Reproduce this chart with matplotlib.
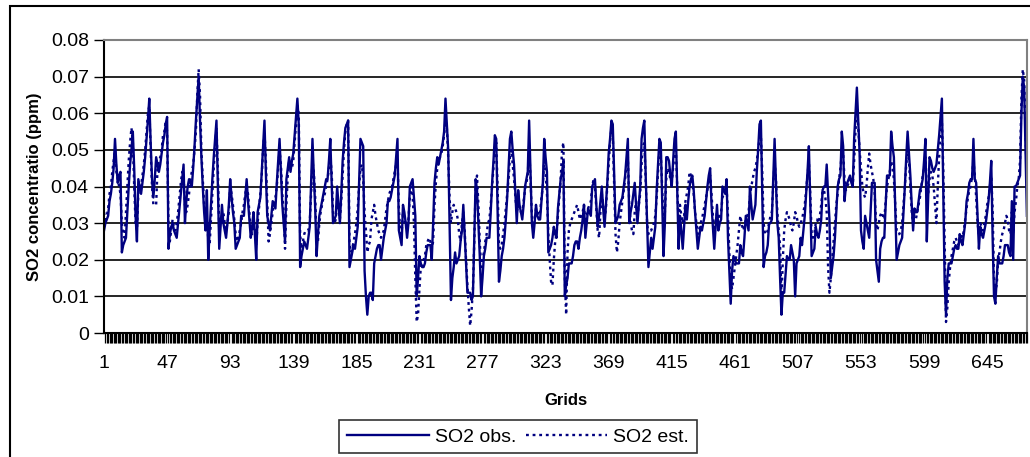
import matplotlib
matplotlib.use("Agg")
import matplotlib.pyplot as plt
import numpy as np
from matplotlib.patches import Rectangle
from matplotlib.ticker import FixedLocator, FuncFormatter

# SO2 values in 0.001 ppm, one per grid (1..674)
so2_obs = [
    28, 30, 31, 32, 36, 38, 41, 45, 53, 46,
    41, 43, 44, 22, 24, 25, 26, 33, 40, 46,
    50, 55, 45, 32, 25, 42, 40, 38, 41, 44,
    48, 53, 58, 64, 52, 42, 37, 42, 48, 46,
    44, 46, 49, 52, 54, 57, 59, 23, 27, 29,
    30, 28, 27, 26, 30, 34, 38, 42, 46, 30,
    36, 40, 42, 41, 40, 45, 51, 58, 64, 70,
    58, 48, 40, 33, 28, 39, 20, 28, 35, 42,
    48, 53, 58, 40, 23, 29, 35, 30, 28, 26,
    30, 35, 42, 37, 33, 30, 23, 24, 25, 26,
    32, 32, 32, 37, 42, 36, 31, 26, 29, 33,
    27, 20, 33, 35, 37, 44, 51, 58, 44, 32,
    30, 28, 32, 36, 35, 34, 41, 47, 53, 44,
    35, 30, 25, 42, 45, 48, 44, 47, 49, 54,
    59, 64, 57, 18, 21, 23, 25, 24, 23, 26,
    29, 41, 53, 43, 34, 21, 27, 32, 34, 36,
    38, 40, 42, 42, 47, 53, 41, 30, 31, 32,
    40, 35, 30, 38, 47, 52, 56, 57, 58, 18,
    20, 22, 24, 23, 26, 29, 41, 53, 52, 51,
    17, 10, 5, 10, 11, 11, 9, 19, 21, 23,
    24, 24, 20, 23, 26, 28, 30, 36, 36, 37,
    39, 41, 43, 48, 53, 28, 26, 24, 35, 33,
    30, 26, 30, 40, 41, 42, 37, 32, 10, 15,
    21, 19, 18, 18, 19, 22, 24, 24, 24, 20,
    30, 41, 45, 48, 46, 48, 50, 52, 55, 64,
    57, 50, 30, 9, 15, 18, 22, 19, 20, 21,
    25, 28, 35, 27, 19, 11, 11, 11, 9, 10,
    26, 42, 39, 30, 21, 10, 15, 21, 23, 26,
    26, 26, 33, 41, 47, 54, 53, 34, 14, 17,
    21, 23, 26, 31, 37, 45, 53, 55, 50, 46,
    38, 30, 39, 35, 33, 31, 35, 40, 42, 44,
    58, 44, 30, 26, 30, 35, 32, 31, 31, 36,
    41, 53, 48, 44, 22, 23, 24, 26, 29, 27,
    26, 34, 38, 42, 44, 47, 10, 13, 15, 19,
    19, 19, 21, 24, 25, 25, 23, 26, 28, 31,
    35, 26, 30, 34, 33, 32, 40, 41, 42, 35,
    29, 32, 36, 40, 34, 29, 35, 41, 49, 53,
    58, 57, 43, 30, 31, 32, 35, 36, 37, 40,
    43, 48, 53, 30, 33, 35, 38, 41, 35, 30,
    35, 40, 53, 56, 58, 43, 30, 18, 22, 26,
    23, 26, 29, 39, 46, 53, 52, 36, 21, 30,
    48, 48, 47, 43, 40, 47, 53, 55, 39, 23,
    32, 28, 23, 29, 35, 31, 36, 40, 42, 43,
    39, 33, 28, 23, 26, 29, 28, 30, 32, 36,
    40, 43, 45, 35, 29, 23, 29, 35, 28, 30,
    31, 40, 39, 38, 42, 26, 17, 8, 17, 21,
    20, 19, 19, 19, 24, 22, 21, 26, 32, 30,
    28, 40, 35, 31, 33, 35, 44, 50, 57, 58,
    38, 18, 21, 22, 24, 30, 30, 31, 42, 53,
    41, 30, 26, 15, 5, 11, 11, 16, 21, 20,
    20, 24, 22, 20, 10, 19, 20, 21, 26, 24,
    28, 32, 38, 44, 51, 36, 21, 22, 23, 29,
    27, 26, 28, 31, 39, 40, 40, 46, 38, 31,
    15, 18, 21, 26, 33, 40, 42, 43, 55, 51,
    36, 40, 41, 42, 43, 41, 40, 53, 60, 67,
    58, 49, 28, 25, 23, 32, 30, 28, 26, 33,
    41, 41, 41, 20, 17, 14, 23, 25, 26, 26,
    35, 43, 43, 43, 55, 51, 48, 34, 20, 22,
    24, 25, 26, 33, 40, 48, 55, 49, 43, 35,
    28, 34, 33, 33, 36, 39, 40, 42, 47, 53,
    25, 37, 48, 47, 45, 44, 45, 46, 50, 54,
    59, 64, 38, 14, 5, 15, 19, 19, 19, 21,
    23, 24, 23, 23, 27, 25, 24, 27, 30, 36,
    38, 41, 42, 42, 53, 42, 41, 32, 23, 29,
    27, 26, 28, 30, 33, 36, 41, 47, 26, 10,
    8, 15, 21, 19, 19, 19, 21, 24, 24, 24,
    22, 21, 36, 20, 40, 40, 41, 42, 43, 60,
    70, 67, 50, 32,
]

so2_est = [
    33, 30, 32, 34, 38, 40, 44, 47, 50, 44,
    42, 40, 38, 30, 27, 26, 33, 40, 47, 52,
    56, 52, 40, 30, 28, 38, 41, 40, 43, 46,
    50, 55, 60, 62, 50, 40, 35, 35, 35, 45,
    47, 48, 50, 54, 55, 58, 55, 30, 25, 28,
    31, 29, 28, 30, 33, 37, 41, 44, 43, 35,
    33, 35, 38, 42, 44, 46, 50, 55, 65, 72,
    65, 50, 42, 35, 33, 30, 26, 24, 31, 38,
    45, 51, 56, 45, 28, 30, 32, 33, 30, 28,
    30, 33, 40, 38, 35, 31, 27, 25, 26, 28,
    30, 33, 35, 38, 40, 38, 33, 28, 27, 30,
    29, 24, 30, 34, 38, 43, 50, 55, 47, 36,
    25, 27, 30, 33, 36, 37, 40, 45, 50, 46,
    38, 33, 23, 35, 43, 47, 46, 45, 47, 52,
    57, 62, 60, 27, 23, 25, 27, 28, 28, 28,
    30, 38, 47, 44, 37, 26, 25, 30, 33, 35,
    37, 38, 40, 42, 45, 48, 44, 33, 30, 31,
    36, 34, 31, 36, 43, 50, 55, 57, 58, 25,
    22, 23, 25, 27, 30, 34, 40, 45, 46, 42,
    33, 28, 22, 24, 25, 31, 33, 35, 32, 30,
    28, 27, 26, 27, 28, 31, 34, 36, 38, 39,
    40, 42, 44, 46, 48, 34, 28, 27, 33, 31,
    30, 29, 31, 37, 40, 38, 30, 15, 3, 5,
    12, 18, 19, 20, 21, 24, 25, 26, 25, 23,
    25, 35, 41, 45, 47, 48, 49, 51, 54, 58,
    56, 48, 37, 30, 33, 35, 34, 33, 31, 27,
    25, 30, 33, 28, 20, 13, 7, 2, 6, 12,
    25, 40, 43, 35, 25, 18, 20, 22, 25, 27,
    30, 31, 35, 40, 45, 50, 52, 40, 24, 23,
    24, 27, 30, 34, 38, 42, 48, 50, 46, 42,
    37, 33, 35, 34, 33, 33, 36, 39, 41, 43,
    51, 42, 32, 29, 31, 34, 33, 32, 33, 37,
    40, 47, 43, 38, 27, 20, 14, 13, 20, 25,
    27, 32, 37, 42, 50, 52, 15, 5, 22, 28,
    30, 31, 32, 33, 34, 35, 33, 31, 32, 33,
    35, 30, 32, 34, 35, 36, 40, 42, 40, 34,
    28, 26, 33, 38, 35, 31, 34, 40, 46, 52,
    56, 54, 40, 27, 22, 25, 30, 33, 36, 39,
    42, 46, 48, 35, 30, 28, 27, 33, 36, 32,
    35, 38, 46, 51, 52, 42, 30, 27, 28, 28,
    29, 30, 32, 37, 44, 50, 49, 40, 30, 33,
    42, 45, 44, 42, 41, 45, 49, 50, 40, 30,
    35, 32, 30, 32, 36, 38, 40, 44, 43, 41,
    38, 33, 30, 27, 28, 30, 31, 33, 35, 37,
    39, 42, 43, 38, 32, 27, 30, 33, 31, 32,
    33, 37, 38, 39, 40, 32, 22, 14, 12, 15,
    18, 21, 24, 28, 32, 30, 28, 29, 31, 32,
    33, 37, 40, 42, 44, 45, 47, 50, 53, 54,
    44, 30, 27, 27, 28, 30, 32, 33, 40, 47,
    42, 33, 28, 24, 9, 20, 28, 31, 33, 32,
    31, 29, 28, 30, 33, 32, 30, 29, 30, 31,
    33, 35, 39, 43, 47, 38, 27, 26, 27, 30,
    31, 30, 32, 35, 39, 39, 37, 33, 18, 11,
    15, 20, 25, 30, 35, 38, 42, 45, 49, 49,
    42, 39, 40, 41, 42, 41, 40, 47, 55, 62,
    56, 50, 45, 40, 38, 37, 40, 45, 49, 46,
    44, 42, 38, 30, 28, 30, 32, 33, 32, 31,
    36, 40, 42, 44, 47, 45, 42, 35, 28, 27,
    27, 28, 30, 35, 40, 46, 49, 47, 40, 33,
    30, 31, 31, 33, 35, 37, 40, 43, 45, 48,
    40, 38, 42, 44, 43, 40, 35, 30, 40, 48,
    55, 58, 45, 25, 3, 7, 14, 18, 21, 23,
    25, 26, 25, 24, 26, 27, 26, 28, 31, 34,
    37, 39, 40, 43, 47, 43, 37, 30, 27, 30,
    29, 28, 30, 32, 35, 37, 40, 43, 34, 15,
    12, 13, 20, 22, 25, 27, 28, 30, 32, 31,
    28, 27, 33, 27, 33, 36, 40, 42, 47, 64,
    72, 69, 55, 40,
]

n = len(so2_obs)
grids = np.arange(1, n + 1)
label_grids = list(range(1, n + 1, 46))

plt.rcParams['font.family'] = ['Liberation Sans', 'DejaVu Sans']

fig = plt.figure(figsize=(10.30, 4.57), dpi=100)
ax = fig.add_axes([0.101, 0.2713, 0.896, 0.6412])

navy = '#000080'
ax.plot(grids, np.array(so2_obs) / 1000, color=navy, lw=1.7, label='SO2 obs.')
ax.plot(grids, np.array(so2_est[:n]) / 1000, color=navy, lw=1.7,
        ls=(0, (1.2, 1.6)), label='SO2 est.')

ax.set_xlim(1, n)
ax.set_ylim(0, 0.08)
ax.set_yticks(np.arange(0, 0.081, 0.01))
ax.yaxis.set_major_formatter(FuncFormatter(lambda v, p: '0' if abs(v) < 1e-9 else '%.2f' % v))
ax.xaxis.set_major_locator(FixedLocator(label_grids))
ax.xaxis.set_minor_locator(FixedLocator(grids))
ax.tick_params(axis='x', which='major', length=0, pad=16, labelsize=14)
ax.tick_params(axis='x', which='minor', length=7, width=0.9, color='black')
ax.tick_params(axis='y', length=7, width=1, labelsize=14, pad=4)

for v in np.arange(0.01, 0.075, 0.01):
    ax.axhline(v, color='black', lw=1.2, zorder=0)

ax.spines['left'].set_color('black')
ax.spines['bottom'].set_color('black')
ax.spines['left'].set_linewidth(1.5)
ax.spines['bottom'].set_linewidth(1.5)
ax.spines['top'].set_color('#808080')
ax.spines['right'].set_color('#808080')
ax.spines['top'].set_linewidth(1.5)
ax.spines['right'].set_linewidth(1.5)

ax.set_xlabel('Grids', fontsize=12, fontweight='bold', labelpad=15)
ax.set_ylabel('SO2 concentratio (ppm)', fontsize=12, fontweight='bold', labelpad=6)

leg = fig.legend(loc='lower center', bbox_to_anchor=(0.503, 0.008), ncol=2,
                 fontsize=14, frameon=True, fancybox=False, edgecolor='black',
                 handlelength=4.2, columnspacing=0.5, handletextpad=0.3,
                 borderpad=0.4, borderaxespad=0.0)
leg.get_frame().set_linewidth(1.2)

fig.patches.append(Rectangle((10 / 1030, -0.1), 1.2, 1 - 6 / 457 + 0.1,
                             transform=fig.transFigure, fill=False,
                             edgecolor='black', lw=1.5))

fig.savefig('out.png', dpi=100)
